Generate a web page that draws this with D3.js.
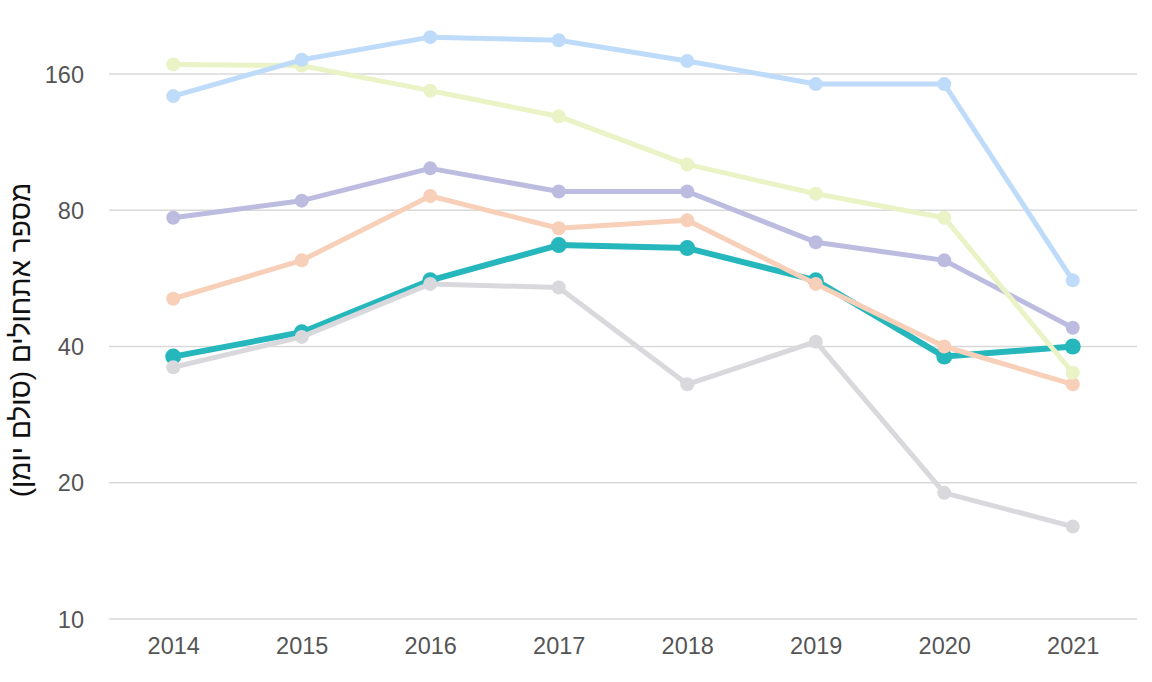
<!DOCTYPE html>
<html>
<head>
<meta charset="utf-8">
<script src="https://cdn.jsdelivr.net/npm/d3@7"></script>
<style>
  body { margin: 0; background: #fff; }
  svg { display: block; font-family: "Liberation Sans", Arial, sans-serif; }
  .tick text { fill: #555; font-size: 23.5px; }
</style>
</head>
<body>
<svg id="chart" width="1152" height="682"></svg>
<script>
// values (log2 scale)
const YEARS = ["2014", "2015", "2016", "2017", "2018", "2019", "2020", "2021"];
const Y_TICKS = [10, 20, 40, 80, 160];

const TEAL   = [38, 43, 56, 67, 66, 56, 38, 40];
const PEACH  = [51, 62, 86, 73, 76, 55, 40, 33];
const PURPLE = [77, 84, 99, 88, 88, 68, 62, 44];
const YELLOW = [168, 167, 147, 129, 101, 87, 77, 35];
const BLUE   = [143, 172, 193, 190, 171, 152, 152, 56];
const GRAY   = [36, 42, 55, 54, 33, 41, 19, 16];

const series = [
  { values: TEAL,   color: "#26b7bd", w: 6, r: 8 },
  { values: GRAY,   color: "#d9d9dd", w: 5, r: 7 },
  { values: PEACH,  color: "#f8cfb8", w: 5, r: 7 },
  { values: PURPLE, color: "#bbbce0", w: 5, r: 7 },
  { values: YELLOW, color: "#e9f3c5", w: 5, r: 7 },
  { values: BLUE,   color: "#bedcfa", w: 5, r: 7 },
];

const svg = d3.select("#chart");
const margin = { top: 20, right: 15, bottom: 63, left: 109 };
const W = 1152, H = 682;

const x = d3.scalePoint().domain(YEARS)
  .range([margin.left, W - margin.right]).padding(0.5);
const y = d3.scaleLog().base(2).domain([10, 160]).range([619, 74]);

// gridlines
svg.append("g").selectAll("line").data(Y_TICKS).join("line")
  .attr("x1", margin.left).attr("x2", W - margin.right)
  .attr("y1", (d) => y(d)).attr("y2", (d) => y(d))
  .attr("stroke", "#d9d9d9").attr("stroke-width", 1.5);

// y axis labels
svg.append("g").attr("transform", `translate(${margin.left - 22},0)`)
  .call(d3.axisLeft(y).tickValues(Y_TICKS).tickFormat(d3.format("d")).tickSize(0))
  .call((g) => g.select(".domain").remove())
  .selectAll("text").attr("dy", "0.35em");

// x axis labels
svg.append("g").attr("transform", "translate(0,634)")
  .call(d3.axisBottom(x).tickSize(0))
  .call((g) => g.select(".domain").remove())
  .selectAll("text").attr("dy", "0.71em");

svg.append("text")
  .attr("transform", "translate(20,340) rotate(-90)")
  .attr("text-anchor", "middle").attr("dy", "0.35em")
  .style("font-size", "28px").style("fill", "#111")
  .text("מספר אתחולים (סולם יומן)");

const line = d3.line().x((d, i) => x(YEARS[i])).y((d) => y(d));

series.forEach((s) => {
  const g = svg.append("g");
  g.append("path").datum(s.values).attr("d", line)
    .attr("fill", "none").attr("stroke", s.color).attr("stroke-width", s.w)
    .attr("stroke-linejoin", "round");
  g.selectAll("circle").data(s.values).join("circle")
    .attr("cx", (d, i) => x(YEARS[i])).attr("cy", (d) => y(d))
    .attr("r", s.r).attr("fill", s.color);
});
</script>
</body>
</html>
